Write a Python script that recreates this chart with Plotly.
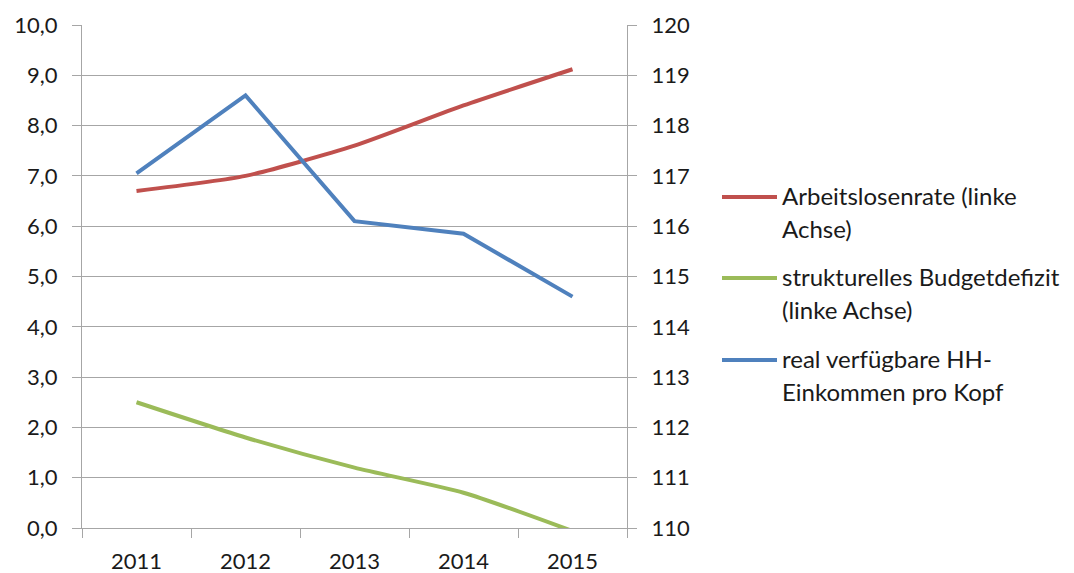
import plotly.graph_objects as go

years = ["2011", "2012", "2013", "2014", "2015"]
arbeitslosenrate = [6.7, 7.0, 7.6, 8.4, 9.12]
budgetdefizit = [2.5, 1.8, 1.2, 0.7, -0.06]
einkommen = [117.05, 118.6, 116.1, 115.85, 114.6]

legend_lines = [["Arbeitslosenrate (linke", "Achse)"],
                ["strukturelles Budgetdefizit", "(linke Achse)"],
                ["real verfügbare HH-", "Einkommen pro Kopf"]]
colors = ["#C0504D", "#9BBB59", "#4F81BD"]

FONT = "Lato"
GRID = "#A6A6A6"
TXT = "#1a1a1a"

# plot area in pixels (for placing the hand-drawn legend)
L, R, T, B = 82, 627, 25, 528
W, H = R - L, B - T


def px(x):
    return (x - L) / W


def py(y):
    return (B - y) / H


fig = go.Figure()
fig.add_trace(go.Scatter(x=years, y=arbeitslosenrate, name=" ".join(legend_lines[0]), mode="lines",
                         line=dict(color=colors[0], width=4, shape="spline", smoothing=0.6),
                         yaxis="y", showlegend=False))
fig.add_trace(go.Scatter(x=years, y=budgetdefizit, name=" ".join(legend_lines[1]), mode="lines",
                         line=dict(color=colors[1], width=4, shape="spline", smoothing=0.6),
                         yaxis="y", showlegend=False))
fig.add_trace(go.Scatter(x=years, y=einkommen, name=" ".join(legend_lines[2]), mode="lines",
                         line=dict(color=colors[2], width=4),
                         yaxis="y2", showlegend=False))

# hand-drawn legend (symbol aligned with first text line, as in the original)
entry_y = [197, 278, 360]
line_gap = 33
shapes, annotations = [], []
for i, (lines, c) in enumerate(zip(legend_lines, colors)):
    y0 = entry_y[i]
    shapes.append(dict(type="line", xref="paper", yref="paper",
                       x0=px(722), x1=px(777), y0=py(y0), y1=py(y0),
                       line=dict(color=c, width=4)))
    for j, t in enumerate(lines):
        annotations.append(dict(xref="paper", yref="paper", x=px(780), y=py(y0 - 2 + j * line_gap),
                                xanchor="left", yanchor="middle", text=t, showarrow=False,
                                font=dict(family=FONT, size=24, color=TXT)))

fig.update_layout(
    width=1074, height=573,
    margin=dict(l=L, r=1074 - R, t=T, b=573 - B),
    paper_bgcolor="white", plot_bgcolor="white",
    font=dict(family=FONT, size=22, color=TXT),
    separators=",.",
    showlegend=False,
    xaxis=dict(type="category", range=[-0.5, 4.5], showgrid=False,
               showline=True, linecolor=GRID, linewidth=1.3,
               ticks="outside", tickson="boundaries", ticklen=9, tickcolor=GRID,
               ticklabelstandoff=13, tickfont=dict(size=22), fixedrange=True,
               automargin=False),
    yaxis=dict(range=[0, 10], dtick=1, tickformat=".1f", showgrid=True,
               gridcolor=GRID, gridwidth=1.3, showline=True, linecolor=GRID, linewidth=1.3,
               ticks="outside", ticklen=9, tickcolor=GRID, zeroline=False,
               ticklabelstandoff=10, tickfont=dict(size=22), automargin=False),
    yaxis2=dict(range=[110, 120], dtick=1, overlaying="y", side="right",
                showgrid=False, showline=True, linecolor=GRID, linewidth=1.3,
                ticks="outside", ticklen=9, tickcolor=GRID, zeroline=False,
                ticklabelstandoff=10, tickfont=dict(size=22), automargin=False),
    shapes=shapes,
    annotations=annotations,
)

fig.write_html("out.html")
